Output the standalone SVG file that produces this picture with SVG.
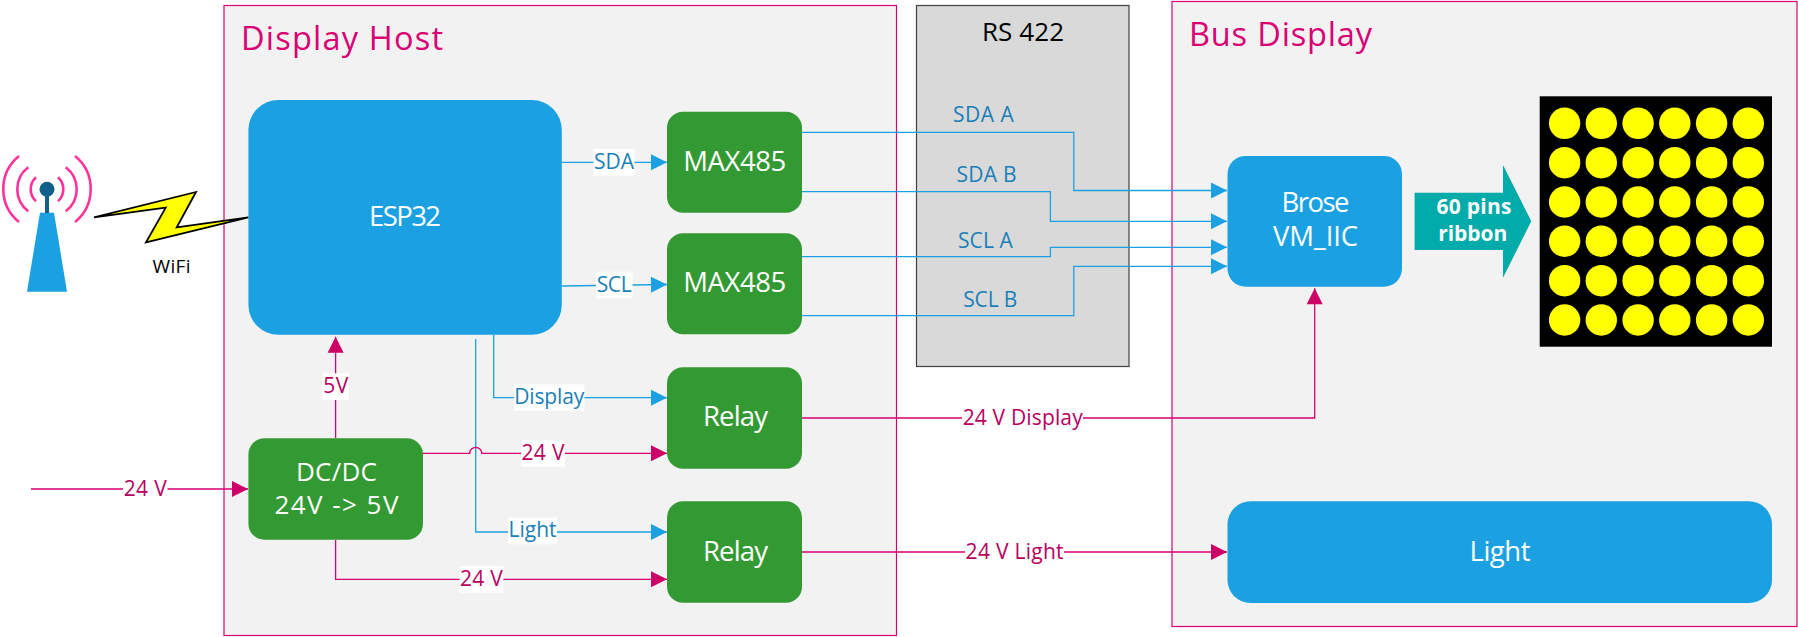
<svg xmlns="http://www.w3.org/2000/svg" width="1798" height="637" viewBox="0 0 1798 637">
<style>
text{font-family:"Open Sans","Noto Sans","Liberation Sans",sans-serif}
.box{fill:#f2f2f2;stroke:#d80073;stroke-width:1.2}
.blue{fill:#1ba1e2}
.green{fill:#339933}
.wt{fill:#fff;font-size:27.5px;text-anchor:middle}
.title{fill:#d80073;font-size:32.5px}
.lb{fill:#1a7fb8;font-size:21px;text-anchor:middle}
.lm{fill:#b8005f;font-size:21px;text-anchor:middle}
.bg{fill:#fff}
.cb{fill:none;stroke:#1ba1e2;stroke-width:1.3}
.cm{fill:none;stroke:#d80073;stroke-width:1.3}
.ant{fill:none;stroke:#ff3399;stroke-width:2.6}
.dot{fill:#ffff00}
.rb{fill:#fff;font-size:21px;font-weight:700;text-anchor:middle}
</style>
<defs>
<marker id="ab" markerUnits="userSpaceOnUse" markerWidth="17" markerHeight="17" refX="16.5" refY="8.5" orient="auto"><path d="M0.5 0.5L16.5 8.5L0.5 16.5Z" fill="#1ba1e2"/></marker>
<marker id="am" markerUnits="userSpaceOnUse" markerWidth="17" markerHeight="17" refX="16.5" refY="8.5" orient="auto"><path d="M0.5 0.5L16.5 8.5L0.5 16.5Z" fill="#cc0066"/></marker>
</defs>
<g id="display-host"><rect class="box" x="224" y="5.5" width="672.5" height="630"/><text class="title" x="241" y="50" textLength="202">Display Host</text></g>
<g id="rs422"><rect x="916.5" y="5.5" width="212.5" height="361" fill="#d9d9d9" stroke="#404040" stroke-width="1.2"/><text x="1023" y="40.7" fill="#000" font-size="26" text-anchor="middle" textLength="82">RS 422</text></g>
<g id="bus-display"><rect class="box" x="1172" y="1.5" width="625" height="625"/><text class="title" x="1189" y="46" textLength="183">Bus Display</text></g>
<g id="connectors">
<path class="cb" d="M562 162.3H667" marker-end="url(#ab)"/>
<path class="cb" d="M562 286L667 284.5" marker-end="url(#ab)"/>
<path class="cb" d="M802 132.3H1073.8V190.5H1227" marker-end="url(#ab)"/>
<path class="cb" d="M802 191.7H1050.4V221.3H1227" marker-end="url(#ab)"/>
<path class="cb" d="M802 256.7H1050.4V247.3H1227" marker-end="url(#ab)"/>
<path class="cb" d="M802 315.7H1073.8V266.3H1227" marker-end="url(#ab)"/>
<path class="cb" d="M493.7 334.7V397.7H667" marker-end="url(#ab)"/>
<path class="cb" d="M475.7 339V532H667" marker-end="url(#ab)"/>
<path class="cm" d="M423 453.3H469.7A6 6 0 0 1 481.7 453.3H667" marker-end="url(#am)"/>
<path class="cm" d="M335.6 539.7V579.3H667" marker-end="url(#am)"/>
<path class="cm" d="M335.6 438V336.7" marker-end="url(#am)"/>
<path class="cm" d="M31 489H248" marker-end="url(#am)"/>
<path class="cm" d="M802 418H1314.7V288.3" marker-end="url(#am)"/>
<path class="cm" d="M802 552H1227" marker-end="url(#am)"/>
<rect class="bg" x="593.5" y="149" width="41" height="26.7"/><text class="lb" x="614" y="169" textLength="40">SDA</text>
<rect class="bg" x="596" y="271.7" width="36.5" height="26.6"/><text class="lb" x="614.2" y="291.7" textLength="35">SCL</text>
<rect class="bg" x="514" y="384.3" width="70.4" height="26.4"/><text class="lb" x="549.2" y="403.7" textLength="70">Display</text>
<rect class="bg" x="508" y="517.7" width="49" height="26.6"/><text class="lb" x="532.5" y="537.3" textLength="48">Light</text>
<rect class="bg" x="521.2" y="440" width="43.8" height="26.7"/><text class="lm" x="543" y="460" textLength="43">24 V</text>
<rect class="bg" x="459.6" y="566" width="43.7" height="26.7"/><text class="lm" x="481.4" y="586" textLength="43">24 V</text>
<rect class="bg" x="322.6" y="373.3" width="26.4" height="26.7"/><text class="lm" x="335.8" y="392.7" textLength="25">5V</text>
<rect class="bg" x="123" y="476" width="44.5" height="26"/><text class="lm" x="145.2" y="495.7" textLength="43">24 V</text>
<rect class="bg" x="962" y="405" width="121" height="26"/><text class="lm" x="1022.7" y="425.3" textLength="120">24 V Display</text>
<rect class="bg" x="965" y="539" width="99" height="26"/><text class="lm" x="1014.6" y="558.7" textLength="98">24 V Light</text>
<text class="lb" x="983.4" y="122" textLength="61">SDA A</text>
<text class="lb" x="986.5" y="181.7" textLength="60">SDA B</text>
<text class="lb" x="985.4" y="247.7" textLength="55">SCL A</text>
<text class="lb" x="990.3" y="306.7" textLength="54">SCL B</text>
</g>
<g id="esp32"><rect class="blue" x="248.4" y="100" width="313.4" height="234.7" rx="30"/><text class="wt" x="405" y="226" textLength="72">ESP32</text></g>
<g id="max485-1"><rect class="green" x="667" y="111.7" width="135" height="101" rx="16"/><text class="wt" x="734.7" y="170.7" textLength="103">MAX485</text></g>
<g id="max485-2"><rect class="green" x="667" y="233.3" width="135" height="101" rx="16"/><text class="wt" x="734.7" y="291.7" textLength="103">MAX485</text></g>
<g id="relay-1"><rect class="green" x="667" y="367.3" width="135" height="101.4" rx="16"/><text class="wt" x="735.5" y="426" textLength="65">Relay</text></g>
<g id="relay-2"><rect class="green" x="667" y="501.3" width="135" height="101.4" rx="16"/><text class="wt" x="735.5" y="561" textLength="65">Relay</text></g>
<g id="dcdc"><rect class="green" x="248.4" y="438.3" width="174.6" height="101.4" rx="16"/><text class="wt" x="336.4" y="480.7" font-size="26" style="font-size:26px" textLength="81">DC/DC</text><text class="wt" x="336.4" y="514" style="font-size:26px" textLength="124">24V -&gt; 5V</text></g>
<g id="brose"><rect class="blue" x="1227.5" y="156" width="174.5" height="130.7" rx="18"/><text class="wt" x="1315.5" y="212.3" textLength="68">Brose</text><text class="wt" x="1315.5" y="245.7" textLength="85">VM_IIC</text></g>
<g id="light"><rect class="blue" x="1227.5" y="501.3" width="544.5" height="101.7" rx="23"/><text class="wt" x="1500" y="561" textLength="61">Light</text></g>
<g id="ribbon"><path d="M1414.6 192.7H1503V165L1531.3 221.3L1503 277.7V250H1414.6Z" fill="#00aba9"/><text class="rb" x="1474" y="214.3" textLength="75">60 pins</text><text class="rb" x="1472.8" y="240.7" textLength="69">ribbon</text></g>
<g id="matrix"><rect x="1539.7" y="96.3" width="232.3" height="250.4" fill="#000"/>
<g class="dot">
<circle cx="1564.6" cy="123.3" r="15.7"/><circle cx="1601.3" cy="123.3" r="15.7"/><circle cx="1638.1" cy="123.3" r="15.7"/><circle cx="1674.8" cy="123.3" r="15.7"/><circle cx="1711.6" cy="123.3" r="15.7"/><circle cx="1748.3" cy="123.3" r="15.7"/>
<circle cx="1564.6" cy="162.7" r="15.7"/><circle cx="1601.3" cy="162.7" r="15.7"/><circle cx="1638.1" cy="162.7" r="15.7"/><circle cx="1674.8" cy="162.7" r="15.7"/><circle cx="1711.6" cy="162.7" r="15.7"/><circle cx="1748.3" cy="162.7" r="15.7"/>
<circle cx="1564.6" cy="202" r="15.7"/><circle cx="1601.3" cy="202" r="15.7"/><circle cx="1638.1" cy="202" r="15.7"/><circle cx="1674.8" cy="202" r="15.7"/><circle cx="1711.6" cy="202" r="15.7"/><circle cx="1748.3" cy="202" r="15.7"/>
<circle cx="1564.6" cy="241.3" r="15.7"/><circle cx="1601.3" cy="241.3" r="15.7"/><circle cx="1638.1" cy="241.3" r="15.7"/><circle cx="1674.8" cy="241.3" r="15.7"/><circle cx="1711.6" cy="241.3" r="15.7"/><circle cx="1748.3" cy="241.3" r="15.7"/>
<circle cx="1564.6" cy="280.7" r="15.7"/><circle cx="1601.3" cy="280.7" r="15.7"/><circle cx="1638.1" cy="280.7" r="15.7"/><circle cx="1674.8" cy="280.7" r="15.7"/><circle cx="1711.6" cy="280.7" r="15.7"/><circle cx="1748.3" cy="280.7" r="15.7"/>
<circle cx="1564.6" cy="320" r="15.7"/><circle cx="1601.3" cy="320" r="15.7"/><circle cx="1638.1" cy="320" r="15.7"/><circle cx="1674.8" cy="320" r="15.7"/><circle cx="1711.6" cy="320" r="15.7"/><circle cx="1748.3" cy="320" r="15.7"/>
</g></g>
<g id="antenna">
<path d="M27 291.7H67L54 212.7H40Z" fill="#1ba1e2"/>
<rect x="45" y="190" width="4" height="23" fill="#115f8a"/>
<circle cx="47" cy="189.3" r="7.5" fill="#115f8a"/>
<path class="ant" d="M36 177.3A16.2 16.2 0 0 0 36 201.3M28.3 167.3A27.5 27.5 0 0 0 28.3 211.3M19 156A42.5 42.5 0 0 0 19 222M58 177.3A16.2 16.2 0 0 1 58 201.3M65.7 167.3A27.5 27.5 0 0 1 65.7 211.3M75 156A42.5 42.5 0 0 1 75 222"/>
</g>
<g id="wifi"><path d="M94 217.3L196 192L176.7 227.3L248.3 217.3L146 242.3L165.7 207.7Z" fill="#ffff00" stroke="#000" stroke-width="1.8"/><text x="171.5" y="272.7" fill="#000" font-size="19" text-anchor="middle" textLength="38">WiFi</text></g>
</svg>
